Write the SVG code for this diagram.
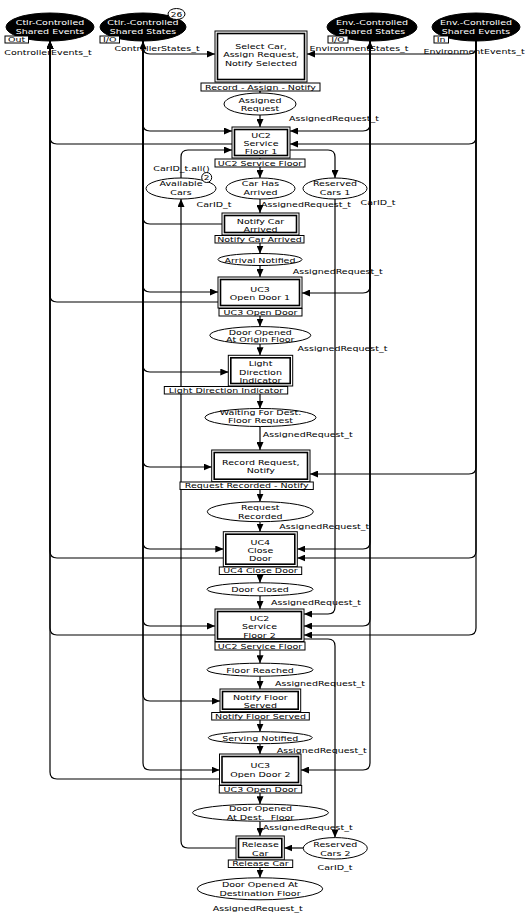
<svg xmlns="http://www.w3.org/2000/svg" width="525" height="916" viewBox="0 0 525 916">
<defs>
<marker id="ah" viewBox="0 0 8 7" refX="8" refY="3.5" markerWidth="8" markerHeight="7" markerUnits="userSpaceOnUse" orient="auto-start-reverse" preserveAspectRatio="none"><path d="M0,0 L8,3.5 L0,7 z" fill="#000"/></marker>
</defs>
<style>
.ln{fill:none;stroke:#000;stroke-width:1.2}
.ar{marker-end:url(#ah)}
.pl{fill:#fff;stroke:#000;stroke-width:1}
.pb{fill:#000;stroke:#000;stroke-width:1}
.to{fill:#fff;stroke:#000;stroke-width:1}
.ti{fill:none;stroke:#000;stroke-width:1.6}
.lb{fill:#fff;stroke:#000;stroke-width:1}
text{font-family:"DejaVu Sans","Liberation Sans",sans-serif;font-size:9.5px;fill:#000;text-anchor:middle}
.w{fill:#fff}
.sm{font-size:9px}
</style>
<rect width="525" height="916" fill="#fff"/>
<g id="connectors">
<path class="ln ar" d="M260,82 V93"/>
<path class="ln ar" d="M260,115 V127"/>
<path class="ln ar" d="M260,158 V178"/>
<path class="ln ar" d="M260,199 V213"/>
<path class="ln ar" d="M260,235 V253.5"/>
<path class="ln ar" d="M260,265.5 V277"/>
<path class="ln ar" d="M260,308 V326.6"/>
<path class="ln ar" d="M260,344 V355.3"/>
<path class="ln ar" d="M260,386 V408.5"/>
<path class="ln ar" d="M260,426.5 V450"/>
<path class="ln ar" d="M260,481.7 V501.7"/>
<path class="ln ar" d="M260,521.7 V531.7"/>
<path class="ln ar" d="M260,566.7 V582.8"/>
<path class="ln ar" d="M260,595.8 V609"/>
<path class="ln ar" d="M260,641.5 V663.2"/>
<path class="ln ar" d="M260,676.2 V689"/>
<path class="ln ar" d="M260,711.7 V731.7"/>
<path class="ln ar" d="M260,743.7 V754"/>
<path class="ln ar" d="M260,785 V804.2"/>
<path class="ln ar" d="M260,821.2 V836"/>
<path class="ln ar" d="M260,860 V877.8"/>
<path class="ln ar" d="M232,144 H57 Q50,144 50,137 V41"/>
<path class="ln ar" d="M218,302 H57 Q50,302 50,295 V41"/>
<path class="ln ar" d="M223.3,558 H57 Q50,558 50,551 V41"/>
<path class="ln ar" d="M215,635 H57 Q50,635 50,628 V41"/>
<path class="ln ar" d="M219.5,779 H57 Q50,779 50,772 V41"/>
<path class="ln ar" d="M143,41 V47 Q143,54 150,54 H215"/>
<path class="ln ar" d="M143,41 V124 Q143,131 150,131 H232"/>
<path class="ln ar" d="M222,224 H150 Q143,224 143,217 V41"/>
<path class="ln ar" d="M143,41 V285 Q143,292 150,292 H218"/>
<path class="ln ar" d="M143,41 V365 Q143,372 150,372 H228.3"/>
<path class="ln ar" d="M143,41 V460 Q143,467 150,467 H211.7"/>
<path class="ln ar" d="M143,41 V542 Q143,549 150,549 H223.3"/>
<path class="ln ar" d="M143,41 V619 Q143,626 150,626 H215"/>
<path class="ln ar" d="M143,41 V694 Q143,701 150,701 H220"/>
<path class="ln ar" d="M143,41 V763 Q143,770 150,770 H219.5"/>
<path class="ln ar" d="M370,41 V124 Q370,131 363,131 H290" marker-start="url(#ah)"/>
<path class="ln ar" d="M370,41 V286 Q370,293 363,293 H302"/>
<path class="ln ar" d="M370,41 V542 Q370,549 363,549 H297.3"/>
<path class="ln ar" d="M370,41 V619 Q370,626 363,626 H304"/>
<path class="ln ar" d="M370,41 V763 Q370,770 363,770 H301"/>
<path class="ln ar" d="M476,41 V47 Q476,54 469,54 H307"/>
<path class="ln ar" d="M476,41 V137 Q476,144 469,144 H290"/>
<path class="ln ar" d="M476,41 V467 Q476,474 469,474 H310"/>
<path class="ln ar" d="M476,41 V551 Q476,558 469,558 H297.3"/>
<path class="ln ar" d="M476,41 V628 Q476,635 469,635 H304"/>
<path class="ln ar" d="M181,178 V157 Q181,150 188,150 H232"/>
<path class="ln ar" d="M290,150 H328 Q335,150 335,157 V178"/>
<path class="ln ar" d="M335,199 V607 Q335,614 328,614 H304"/>
<path class="ln ar" d="M304,639 H328 Q335,639 335,646 V837.6"/>
<path class="ln ar" d="M303.3,848 H284.3"/>
<path class="ln ar" d="M236,848 H188 Q181,848 181,841 V199"/>
</g>

<g id="p-ctlr-events">
<ellipse class="pb" cx="50" cy="27" rx="44" ry="14"/>
<text class="w" transform="translate(50,25.3) scale(1,0.8)">Ctlr-Controlled<tspan x="0" dy="11">Shared Events</tspan></text>
<rect class="lb" x="5" y="36" width="23.5" height="7"/>
<text transform="translate(16.7,42) scale(1,0.8)">Out</text>
<text transform="translate(48,55) scale(1,0.8)">ControllerEvents_t</text>
</g>
<g id="p-ctlr-states">
<ellipse class="pb" cx="143" cy="27" rx="43" ry="14"/>
<text class="w" transform="translate(143,25.3) scale(1,0.8)">Ctlr.-Controlled<tspan x="0" dy="11">Shared States</tspan></text>
<ellipse class="pl" cx="176.5" cy="14" rx="8.5" ry="5.5"/>
<text class="sm" transform="translate(176.5,16.8) scale(1,0.8)">26</text>
<rect class="lb" x="100" y="36" width="19.5" height="7"/>
<text transform="translate(109.8,42) scale(1,0.8)">I/O</text>
<text transform="translate(157,50.5) scale(1,0.8)">ControllerStates_t</text>
</g>
<g id="p-env-states">
<ellipse class="pb" cx="372" cy="27" rx="45" ry="14"/>
<text class="w" transform="translate(372,25.3) scale(1,0.8)">Env.-Controlled<tspan x="0" dy="11">Shared States</tspan></text>
<rect class="lb" x="328" y="36" width="20" height="7"/>
<text transform="translate(338,42) scale(1,0.8)">I/O</text>
<text transform="translate(359,50.5) scale(1,0.8)">EnvironmentStates_t</text>
</g>
<g id="p-env-events">
<ellipse class="pb" cx="476" cy="27" rx="44" ry="14"/>
<text class="w" transform="translate(476,25.3) scale(1,0.8)">Env.-Controlled<tspan x="0" dy="11">Shared Events</tspan></text>
<rect class="lb" x="434" y="36" width="14.5" height="7"/>
<text transform="translate(441.2,42) scale(1,0.8)">In</text>
<text transform="translate(474,54.3) scale(1,0.8)">EnvironmentEvents_t</text>
</g>

<g id="t-select">
<rect class="to" x="215" y="31" width="92" height="51"/>
<rect class="ti" x="217.5" y="33.5" width="87" height="46"/>
<text transform="translate(261,49) scale(1,0.8)">Select Car,<tspan x="0" dy="10.6">Assign Request,</tspan><tspan x="0" dy="10.6">Notify Selected</tspan></text>
<rect class="lb" x="201" y="83" width="119" height="8"/>
<text transform="translate(260.5,89.8) scale(1,0.8)">Record - Assign - Notify</text>
</g>
<g id="p-assigned">
<ellipse class="pl" cx="260" cy="104" rx="36" ry="11"/>
<text transform="translate(260,102.5) scale(1,0.8)">Assigned<tspan x="0" dy="11.2">Request</tspan></text>
<text transform="translate(334,121) scale(1,0.8)">AssignedRequest_t</text>
</g>
<g id="t-uc2-1">
<rect class="to" x="232" y="127" width="58" height="31"/>
<rect class="ti" x="234.5" y="129.5" width="53" height="26"/>
<text transform="translate(261,138) scale(1,0.8)">UC2<tspan x="0" dy="10.3">Service</tspan><tspan x="0" dy="10.3">Floor 1</tspan></text>
<rect class="lb" x="215" y="159" width="90" height="8"/>
<text transform="translate(260,165.9) scale(1,0.8)">UC2 Service Floor</text>
</g>
<g id="p-available">
<ellipse class="pl" cx="181" cy="188.5" rx="35" ry="10.5"/>
<text transform="translate(181,186.3) scale(1,0.8)">Available<tspan x="0" dy="10.5">Cars</tspan></text>
<ellipse class="pl" cx="206.7" cy="177.5" rx="5" ry="5"/>
<text class="sm" transform="translate(206.7,180.3) scale(1,0.8)">2</text>
<text transform="translate(181.5,171.3) scale(1,0.8)">CarID_t.all()</text>
<text transform="translate(214,206.5) scale(1,0.8)">CarID_t</text>
</g>
<g id="p-arrived">
<ellipse class="pl" cx="260.5" cy="188.5" rx="34.5" ry="10.5"/>
<text transform="translate(260.5,186.3) scale(1,0.8)">Car Has<tspan x="0" dy="10.5">Arrived</tspan></text>
<text transform="translate(306,206.5) scale(1,0.8)">AssignedRequest_t</text>
</g>
<g id="p-reserved1">
<ellipse class="pl" cx="335" cy="188.5" rx="32" ry="10.5"/>
<text transform="translate(335,186.3) scale(1,0.8)">Reserved<tspan x="0" dy="10.5">Cars 1</tspan></text>
<text transform="translate(378,205) scale(1,0.8)">CarID_t</text>
</g>
<g id="t-notify-arrived">
<rect class="to" x="222" y="213" width="77" height="22"/>
<rect class="ti" x="224.5" y="215.5" width="72" height="17"/>
<text transform="translate(260.5,223.5) scale(1,0.8)">Notify Car<tspan x="0" dy="10.5">Arrived</tspan></text>
<rect class="lb" x="215" y="235.5" width="89" height="7.5"/>
<text transform="translate(259.5,241.9) scale(1,0.8)">Notify Car Arrived</text>
</g>
<g id="p-arrival-notified">
<ellipse class="pl" cx="260" cy="259.5" rx="42" ry="6"/>
<text transform="translate(260,262.5) scale(1,0.8)">Arrival Notified</text>
<text transform="translate(337.7,274) scale(1,0.8)">AssignedRequest_t</text>
</g>
<g id="t-uc3-1">
<rect class="to" x="218" y="277" width="84" height="31"/>
<rect class="ti" x="220.5" y="279.5" width="79" height="26"/>
<text transform="translate(260,291.5) scale(1,0.8)">UC3<tspan x="0" dy="10.6">Open Door 1</tspan></text>
<rect class="lb" x="219" y="308.5" width="83" height="7.5"/>
<text transform="translate(260.5,314.9) scale(1,0.8)">UC3 Open Door</text>
</g>
<g id="p-origin">
<ellipse class="pl" cx="260.3" cy="335.3" rx="50.5" ry="8.7"/>
<text transform="translate(260.3,334.5) scale(1,0.8)">Door Opened<tspan x="0" dy="10">At Origin Floor</tspan></text>
<text transform="translate(342.5,351) scale(1,0.8)">AssignedRequest_t</text>
</g>
<g id="t-light">
<rect class="to" x="228.3" y="355.3" width="64.4" height="30.7"/>
<rect class="ti" x="230.8" y="357.8" width="59.4" height="25.7"/>
<text transform="translate(260.5,366.3) scale(1,0.8)">Light<tspan x="0" dy="10.5">Direction</tspan><tspan x="0" dy="10.4">Indicator</tspan></text>
<rect class="lb" x="164.3" y="386.5" width="123.4" height="7.5"/>
<text transform="translate(226,392.9) scale(1,0.8)">Light Direction Indicator</text>
</g>
<g id="p-waiting">
<ellipse class="pl" cx="260.5" cy="417.5" rx="55.5" ry="9"/>
<text transform="translate(260.5,415.3) scale(1,0.8)">Waiting For Dest.<tspan x="0" dy="10">Floor Request</tspan></text>
<text transform="translate(307.7,436.5) scale(1,0.8)">AssignedRequest_t</text>
</g>
<g id="t-record">
<rect class="to" x="211.7" y="450" width="98.3" height="31.7"/>
<rect class="ti" x="214.2" y="452.5" width="93.3" height="26.7"/>
<text transform="translate(260.8,464.7) scale(1,0.8)">Record Request,<tspan x="0" dy="10.6">Notify</tspan></text>
<rect class="lb" x="180" y="482" width="133.3" height="7.5"/>
<text transform="translate(246.7,488.4) scale(1,0.8)">Request Recorded - Notify</text>
</g>
<g id="p-recorded">
<ellipse class="pl" cx="260.3" cy="511.7" rx="53" ry="10"/>
<text transform="translate(260.3,509.7) scale(1,0.8)">Request<tspan x="0" dy="11.2">Recorded</tspan></text>
<text transform="translate(324.3,529) scale(1,0.8)">AssignedRequest_t</text>
</g>
<g id="t-uc4">
<rect class="to" x="223.3" y="531.7" width="74" height="35"/>
<rect class="ti" x="225.8" y="534.2" width="69" height="30"/>
<text transform="translate(260.3,544.7) scale(1,0.8)">UC4<tspan x="0" dy="10">Close</tspan><tspan x="0" dy="10.8">Door</tspan></text>
<rect class="lb" x="219.3" y="567" width="82.4" height="7.5"/>
<text transform="translate(260.5,573.4) scale(1,0.8)">UC4 Close Door</text>
</g>
<g id="p-closed">
<ellipse class="pl" cx="260" cy="589.3" rx="53" ry="6.5"/>
<text transform="translate(260,592.3) scale(1,0.8)">Door Closed</text>
<text transform="translate(316,605) scale(1,0.8)">AssignedRequest_t</text>
</g>
<g id="t-uc2-2">
<rect class="to" x="215" y="609" width="89" height="32.5"/>
<rect class="ti" x="217.5" y="611.5" width="84" height="27.5"/>
<text transform="translate(259.5,621.3) scale(1,0.8)">UC2<tspan x="0" dy="10">Service</tspan><tspan x="0" dy="10.6">Floor 2</tspan></text>
<rect class="lb" x="215" y="642" width="90" height="8"/>
<text transform="translate(260,648.9) scale(1,0.8)">UC2 Service Floor</text>
</g>
<g id="p-floor">
<ellipse class="pl" cx="260" cy="669.7" rx="53" ry="6.5"/>
<text transform="translate(260,672.7) scale(1,0.8)">Floor Reached</text>
<text transform="translate(320,686) scale(1,0.8)">AssignedRequest_t</text>
</g>
<g id="t-notify-served">
<rect class="to" x="220" y="689" width="80.7" height="22.7"/>
<rect class="ti" x="222.5" y="691.5" width="75.7" height="17.7"/>
<text transform="translate(260.3,700.3) scale(1,0.8)">Notify Floor<tspan x="0" dy="9.9">Served</tspan></text>
<rect class="lb" x="211.7" y="712.5" width="97.6" height="7.5"/>
<text transform="translate(260.5,718.9) scale(1,0.8)">Notify Floor Served</text>
</g>
<g id="p-serving">
<ellipse class="pl" cx="260.3" cy="737.7" rx="52" ry="6"/>
<text transform="translate(260.3,740.7) scale(1,0.8)">Serving Notified</text>
<text transform="translate(321.7,752.5) scale(1,0.8)">AssignedRequest_t</text>
</g>
<g id="t-uc3-2">
<rect class="to" x="219.5" y="754" width="81.5" height="31"/>
<rect class="ti" x="222" y="756.5" width="76.5" height="26"/>
<text transform="translate(260.3,768) scale(1,0.8)">UC3<tspan x="0" dy="11">Open Door 2</tspan></text>
<rect class="lb" x="219.3" y="785.5" width="82.4" height="7.5"/>
<text transform="translate(260.5,791.9) scale(1,0.8)">UC3 Open Door</text>
</g>
<g id="p-dest">
<ellipse class="pl" cx="260.5" cy="812.7" rx="68" ry="8.5"/>
<text transform="translate(260.5,811.3) scale(1,0.8)">Door Opened<tspan x="0" dy="10.5">At Dest.&#160; Floor</tspan></text>
<text transform="translate(307.7,830) scale(1,0.8)">AssignedRequest_t</text>
</g>
<g id="t-release">
<rect class="to" x="236" y="836" width="48.3" height="24"/>
<rect class="ti" x="238.5" y="838.5" width="43.3" height="19"/>
<text transform="translate(260.2,847.3) scale(1,0.8)">Release<tspan x="0" dy="10.3">Car</tspan></text>
<rect class="lb" x="228.3" y="860" width="64.4" height="7.5"/>
<text transform="translate(260.5,866.4) scale(1,0.8)">Release Car</text>
</g>
<g id="p-reserved2">
<ellipse class="pl" cx="335.3" cy="848.3" rx="32" ry="10.7"/>
<text transform="translate(335.3,847.3) scale(1,0.8)">Reserved<tspan x="0" dy="10.3">Cars 2</tspan></text>
<text transform="translate(335,870) scale(1,0.8)">CarID_t</text>
</g>
<g id="p-final">
<ellipse class="pl" cx="260" cy="888.8" rx="62.7" ry="11"/>
<text transform="translate(260,887.3) scale(1,0.8)">Door Opened At<tspan x="0" dy="11.2">Destination Floor</tspan></text>
<text transform="translate(257.7,910.5) scale(1,0.8)">AssignedRequest_t</text>
</g>
</svg>
